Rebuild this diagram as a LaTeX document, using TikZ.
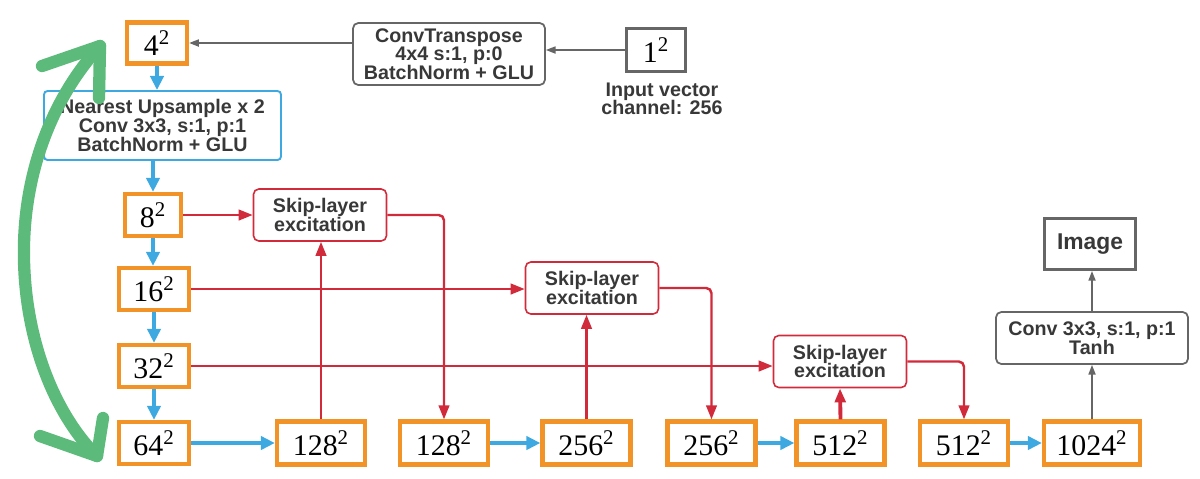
\documentclass[tikz,border=0pt]{standalone}
\usepackage{fontspec}
\setsansfont{Liberation Sans}
\newfontfamily\numfont{Liberation Serif}
\usepackage{tikz}
\usetikzlibrary{arrows.meta}
\definecolor{boxorange}{HTML}{F29327}
\definecolor{flowblue}{HTML}{3DA9E0}
\definecolor{skipred}{HTML}{D12A3B}
\definecolor{linegray}{HTML}{666666}
\definecolor{txtgray}{HTML}{383838}
\definecolor{curvegreen}{HTML}{5CBB7A}

\begin{document}
\begin{tikzpicture}[x=0.02cm, y=-0.02cm,
    res/.style={draw=boxorange, line width=2.4pt, minimum width=1.76cm, minimum height=0.86cm, inner sep=0pt, font=\numfont\fontsize{17}{17}\selectfont},
    lbl/.style={font=\sffamily\bfseries\fontsize{11.2}{10.6}\selectfont, text=txtgray, align=center, inner sep=0pt},
    skipbox/.style={lbl, draw=skipred, line width=0.9pt, rounded corners=3pt, minimum width=2.66cm, minimum height=1.04cm},
    graybox/.style={lbl, draw=linegray, line width=1pt, rounded corners=3pt},
    blue arrow/.style={draw=flowblue, line width=2.2pt, -{Triangle[length=8pt,width=7.5pt]}},
    red arrow/.style={draw=skipred, line width=1.4pt, -{Triangle[length=8pt,width=6pt]}},
    gray arrow/.style={draw=linegray, line width=0.9pt, -{Triangle[length=5.5pt,width=4pt]}},
    green stroke/.style={draw=curvegreen, line width=7pt, line cap=round, line join=round}]
        \useasboundingbox (0,0) rectangle (1200,478);
        \node[res, minimum width=1.2cm, minimum height=0.82cm] (n4) at (157, 43) {4\textsuperscript{2}};
        \node[lbl, draw=flowblue, line width=1.1pt, rounded corners=2pt, minimum width=4.74cm, minimum height=1.38cm] (up) at (162.5, 125.5) {Nearest Upsample x 2\\Conv 3x3, s:1, p:1\\BatchNorm + GLU};
        \node[res, minimum width=1.12cm, minimum height=0.84cm] (n8) at (153, 215) {8\textsuperscript{2}};
        \node[res, minimum width=1.4cm, minimum height=0.84cm] (n16) at (154, 289) {16\textsuperscript{2}};
        \node[res, minimum width=1.4cm, minimum height=0.84cm] (n32) at (154, 366) {32\textsuperscript{2}};
        \node[res, minimum width=1.4cm, minimum height=0.84cm] (n64) at (154, 443) {64\textsuperscript{2}};
        \node[res] (n128a) at (321, 443) {128\textsuperscript{2}};
        \node[res] (n128b) at (444, 443) {128\textsuperscript{2}};
        \node[res] (n256a) at (586.5, 443) {256\textsuperscript{2}};
        \node[res] (n256b) at (711.5, 443) {256\textsuperscript{2}};
        \node[res] (n512a) at (840.5, 443) {512\textsuperscript{2}};
        \node[res] (n512b) at (964, 443) {512\textsuperscript{2}};
        \node[res, minimum width=1.92cm] (n1024) at (1092, 443) {1024\textsuperscript{2}};
        \node[skipbox] (skip1) at (320, 215) {Skip-layer\\excitation};
        \node[skipbox] (skip2) at (592, 288) {Skip-layer\\excitation};
        \node[skipbox] (skip3) at (840, 361.5) {Skip-layer\\excitation};
        \node[graybox, minimum width=3.84cm, minimum height=1.24cm] (convT) at (449, 54) {ConvTranspose\\4x4 s:1, p:0\\BatchNorm + GLU};
        \node[draw=linegray, line width=1.7pt, minimum width=1.18cm, minimum height=0.86cm, inner sep=0pt, font=\numfont\fontsize{17}{17}\selectfont] (n1) at (656, 50) {1\textsuperscript{2}};
        \node[lbl] (inlbl) at (662, 99) {Input vector\\channel: 256};
        \node[graybox, minimum width=3.84cm, minimum height=1.04cm] (convout) at (1092, 338) {Conv 3x3, s:1, p:1\\Tanh};
        \node[lbl, draw=linegray, line width=1.7pt, minimum width=1.82cm, minimum height=1.02cm, font=\sffamily\bfseries\fontsize{13}{13}\selectfont] (img) at (1090, 244) {Image};
        \draw[gray arrow] (n1.west) -- (convT.east |- n1.west);
        \draw[gray arrow] (convT.west |- n4.east) -- (n4.east);
        \draw[blue arrow] (n4.south) -- (n4.south |- up.north);
        \draw[blue arrow] (up.south -| n8.north) -- (n8.north);
        \draw[blue arrow] (n8.south) -- (n8.south |- n16.north);
        \draw[blue arrow] (n16.south) -- (n32.north);
        \draw[blue arrow] (n32.south) -- (n64.north);
        \draw[blue arrow] (n64.east) -- (n128a.west);
        \draw[blue arrow] (n128b.east) -- (n256a.west);
        \draw[blue arrow] (n256b.east) -- (n512a.west);
        \draw[blue arrow] (n512b.east) -- (n1024.west);
        \draw[red arrow] (n8.east) -- (skip1.west);
        \draw[red arrow] (n16.east) -- (n16.east -| skip2.west);
        \draw[red arrow] (n32.east) -- (n32.east -| skip3.west);
        \draw[red arrow] (n128a.north) -- (n128a.north |- skip1.south);
        \draw[red arrow] (n256a.north) -- (n256a.north |- skip2.south);
        \draw[red arrow, line width=2.2pt] (n512a.north) -- (skip3.south);
        \draw[red arrow, rounded corners=3pt] (skip1.east) -| (n128b.north);
        \draw[red arrow, rounded corners=3pt] (skip2.east) -| (n256b.north);
        \draw[red arrow, rounded corners=3pt] (skip3.east) -| (n512b.north);
        \draw[gray arrow] (n1024.north) -- (convout.south);
        \draw[gray arrow] (convout.north) -- (convout.north |- img.south);
        \coordinate (gtop) at (100, 46);
        \coordinate (gbot) at (97, 456);
        \draw[green stroke] (gtop) .. controls (55, 95) and (22, 170) .. (24, 260) .. controls (26, 350) and (60, 420) .. (gbot);
        \draw[green stroke] (42, 66) -- (gtop) -- (99, 98);
        \draw[green stroke] (40, 436) -- (gbot) -- (103, 418);
      \end{tikzpicture}
\end{document}
